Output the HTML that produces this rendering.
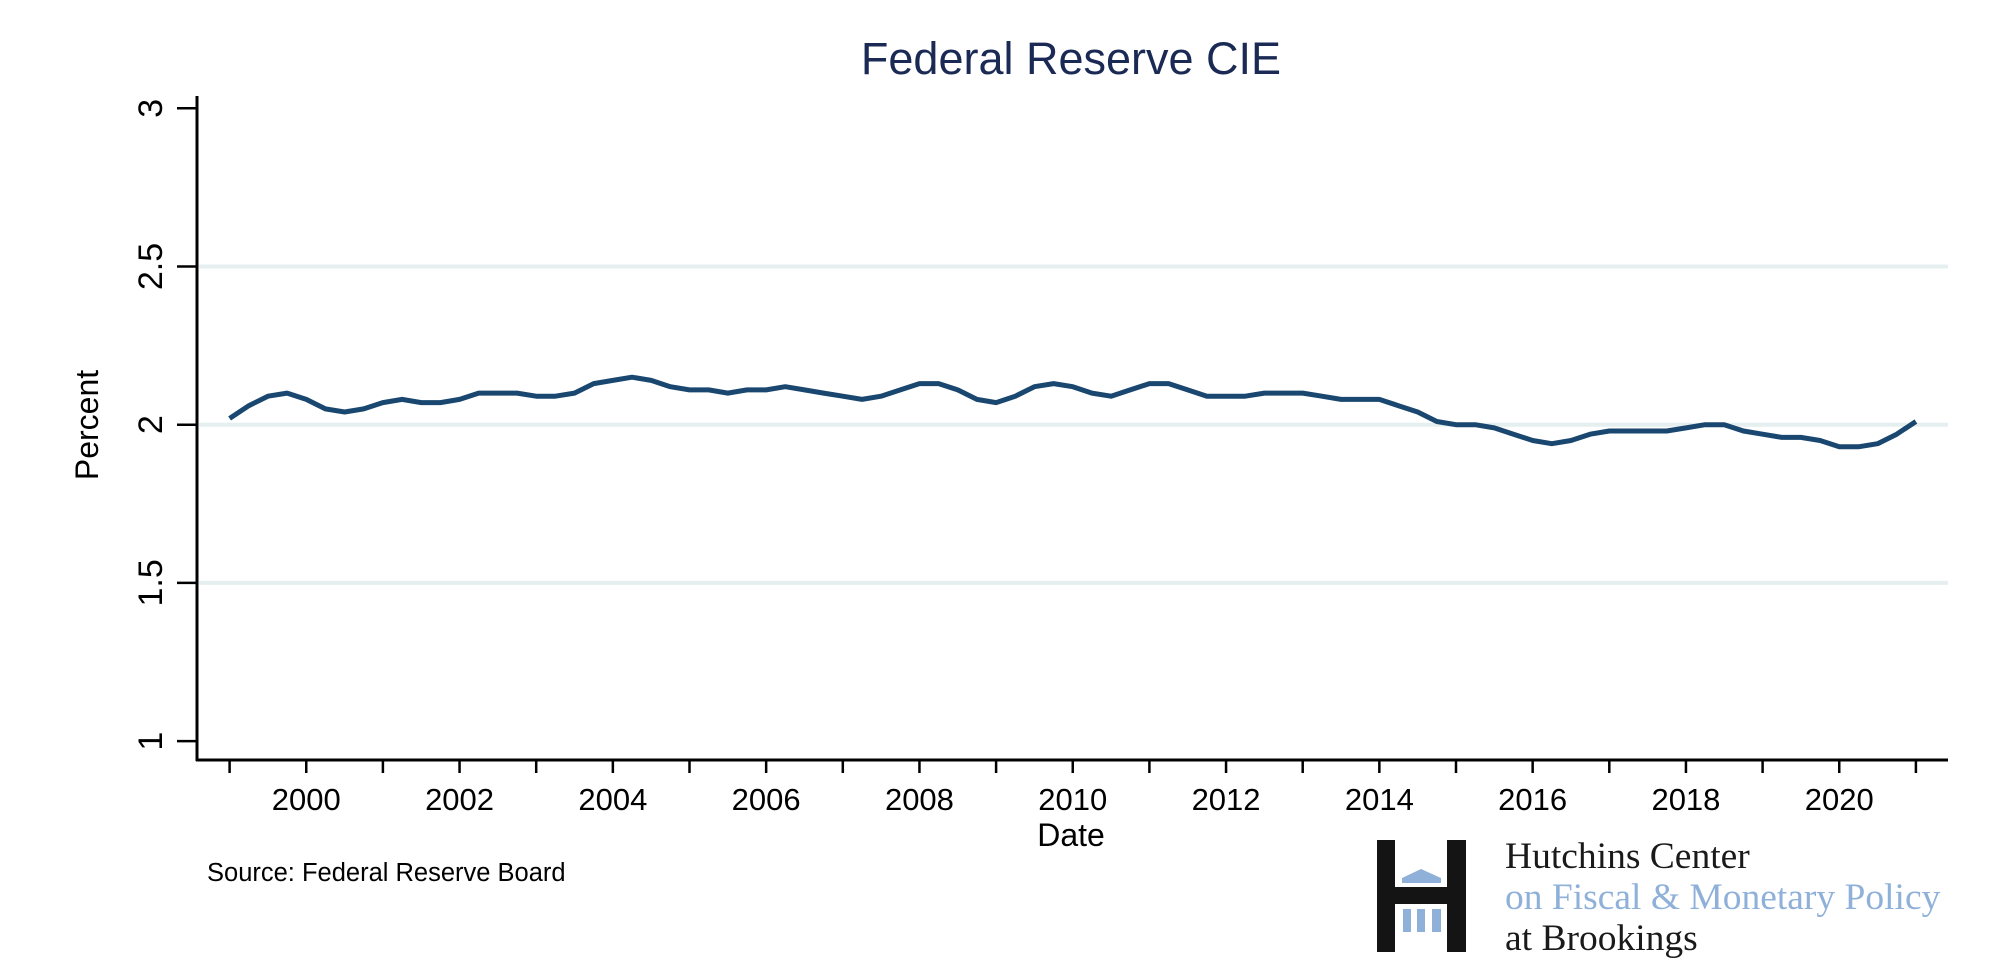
<!DOCTYPE html>
<html><head><meta charset="utf-8"><style>
html,body{margin:0;padding:0;background:#fff;}
svg{display:block;font-family:"Liberation Sans",Arial,sans-serif;}
</style></head><body>
<svg id="chart" width="2000" height="962" viewBox="0 0 2000 962">
<text x="1071" y="74" font-size="45" fill="#1a2a55" text-anchor="middle">Federal Reserve CIE</text>
<g id="grid"></g>
<g id="axes"></g>
<path id="line" fill="none" stroke="#1a476f" stroke-width="5" stroke-linejoin="round"/>
<text x="98" y="425" font-size="32" text-anchor="middle" transform="rotate(-90 98 425)">Percent</text>
<text x="1071" y="846" font-size="32" text-anchor="middle">Date</text>
<text x="207" y="881" font-size="25.5">Source: Federal Reserve Board</text>
<g>
<rect x="1377" y="840" width="18" height="112" fill="#141414"/>
<rect x="1447" y="840" width="19" height="112" fill="#141414"/>
<rect x="1395" y="887" width="52" height="17" fill="#141414"/>
<polygon points="1402,878 1421,869 1441,878 1441,883 1402,883" fill="#8fb1d9"/>
<rect x="1403" y="909" width="8" height="23" fill="#8fb1d9"/>
<rect x="1417" y="909" width="8" height="23" fill="#8fb1d9"/>
<rect x="1432" y="909" width="9" height="23" fill="#8fb1d9"/>
<text x="1505" y="868" font-size="37.5" font-family="Liberation Serif,serif" fill="#1a1a1a">Hutchins Center</text>
<text x="1505" y="909" font-size="37.5" font-family="Liberation Serif,serif" fill="#8fb1d9">on Fiscal &amp; Monetary Policy</text>
<text x="1505" y="950" font-size="37.5" font-family="Liberation Serif,serif" fill="#1a1a1a">at Brookings</text>
</g>
</svg>
<script>
const yTicks=[1,1.5,2,2.5,3];
const yTickLabels=["1","1.5","2","2.5","3"];
const xTickYears=[1999,2000,2001,2002,2003,2004,2005,2006,2007,2008,2009,2010,2011,2012,2013,2014,2015,2016,2017,2018,2019,2020,2021];
const xLabelYears=[2000,2002,2004,2006,2008,2010,2012,2014,2016,2018,2020];
const startYear=1999;
const values=[2.02,2.06,2.09,2.10,2.08,2.05,2.04,2.05,2.07,2.08,2.07,2.07,2.08,2.10,2.10,2.10,2.09,2.09,2.10,2.13,2.14,2.15,2.14,2.12,2.11,2.11,2.10,2.11,2.11,2.12,2.11,2.10,2.09,2.08,2.09,2.11,2.13,2.13,2.11,2.08,2.07,2.09,2.12,2.13,2.12,2.10,2.09,2.11,2.13,2.13,2.11,2.09,2.09,2.09,2.10,2.10,2.10,2.09,2.08,2.08,2.08,2.06,2.04,2.01,2.00,2.00,1.99,1.97,1.95,1.94,1.95,1.97,1.98,1.98,1.98,1.98,1.99,2.00,2.00,1.98,1.97,1.96,1.96,1.95,1.93,1.93,1.94,1.97,2.01];
const NS="http://www.w3.org/2000/svg";
const X0=197,X1=1948,Y0=760;
const x=t=>229.6+(t-1999)*76.65;
const y=v=>741.1-(v-1)*316.4;
function mk(tag,attrs,parent){const e=document.createElementNS(NS,tag);for(const k in attrs)e.setAttribute(k,attrs[k]);parent.appendChild(e);return e;}
const grid=document.getElementById('grid'),axes=document.getElementById('axes');
yTicks.forEach((v,i)=>{
  if(v>1&&v<3){const g=mk('line',{x1:X0+2,x2:X1,y1:y(v),y2:y(v),stroke:'#e6efef','stroke-width':4},grid);
  
  }
  const t=mk('line',{x1:177,x2:X0,y1:y(v),y2:y(v),stroke:'#000','stroke-width':2.5},axes);
  
  
  const l=mk('text',{x:162,y:y(v),'font-size':34,'text-anchor':'middle',transform:`rotate(-90 162 ${y(v)})`},axes);
  l.textContent=yTickLabels[i];
  
  
});
const ya=mk('line',{x1:X0,x2:X0,y1:96,y2:Y0+1,stroke:'#000','stroke-width':3},axes);


const xa=mk('line',{x1:X0-1,x2:X1,y1:Y0,y2:Y0,stroke:'#000','stroke-width':3},axes);


xTickYears.forEach(yr=>{
  const t=mk('line',{x1:x(yr),x2:x(yr),y1:Y0,y2:773,stroke:'#000','stroke-width':2.5},axes);
  
  
});
xLabelYears.forEach(yr=>{
  const l=mk('text',{x:x(yr),y:810,'font-size':31,'text-anchor':'middle'},axes);
  l.textContent=String(yr);
  
  
});
document.getElementById('line').setAttribute('d',values.map((v,i)=>(i?'L':'M')+x(startYear+i*0.25).toFixed(1)+','+y(v).toFixed(1)).join(''));
</script>
</body></html>
